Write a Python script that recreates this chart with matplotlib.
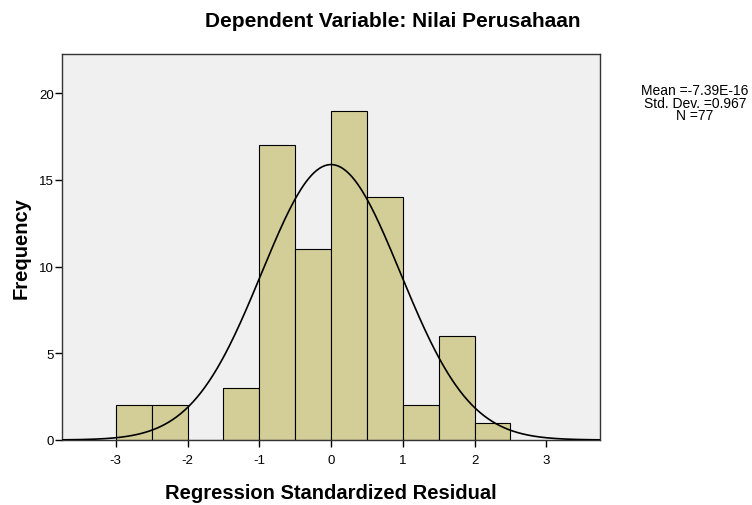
import numpy as np
import matplotlib
matplotlib.use("Agg")
import matplotlib.pyplot as plt

# histogram bins (width 0.5) and counts
bin_left = [-3.0, -2.5, -2.0, -1.5, -1.0, -0.5, 0.0, 0.5, 1.0, 1.5, 2.0]
counts = [2, 2, 0, 3, 17, 11, 19, 14, 2, 6, 1]
bin_width = 0.5

mean = -7.39e-16
std = 0.967
n = 77

title = "Dependent Variable: Nilai Perusahaan"
stats_text = "Mean =-7.39E-16\nStd. Dev. =0.967\nN =77"

plt.rcParams['font.family'] = ['Liberation Sans', 'DejaVu Sans']
plt.rcParams['axes.unicode_minus'] = False

fig = plt.figure(figsize=(7.52, 5.06), dpi=100)
ax = fig.add_axes([0.0824, 0.1285, 0.7156, 0.7625])
ax.set_facecolor('#f0f0f0')

# bars
ax.bar(bin_left, counts, width=bin_width, align='edge',
       color='#d3ce97', edgecolor='black', linewidth=0.8, zorder=2)

# normal curve scaled to counts
xs = np.linspace(-3.75, 3.75, 400)
ys = n * bin_width / (std * np.sqrt(2 * np.pi)) * np.exp(-0.5 * ((xs - mean) / std) ** 2)
ax.plot(xs, ys, color='black', linewidth=1.2, zorder=3)

ax.set_xlim(-3.75, 3.75)
ax.set_ylim(0, 22.25)
ax.set_xticks([-3, -2, -1, 0, 1, 2, 3])
ax.set_yticks([0, 5, 10, 15, 20])
ax.tick_params(direction='out', length=5, width=1, labelsize=9.5, colors='black')
ax.tick_params(axis='x', pad=5)
ax.tick_params(axis='y', pad=1)

for s in ax.spines.values():
    s.set_linewidth(1.0)
    s.set_color('#333333')

ax.set_xlabel("Regression Standardized Residual", fontsize=14.5, fontweight='bold', labelpad=12.5)
ax.set_ylabel("Frequency", fontsize=14.5, fontweight='bold', labelpad=6)
fig.text(0.522, 0.958, title, ha='center', va='center', fontsize=15, fontweight='bold')

fig.text(0.924, 0.795, stats_text, ha='center', va='center', fontsize=10, linespacing=0.86)

fig.savefig("out.png", dpi=100)
